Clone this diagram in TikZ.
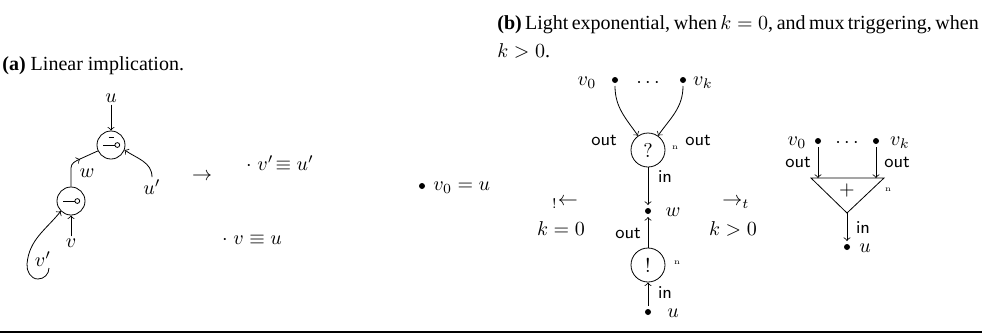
\documentclass[tikz,border=0pt]{standalone}
\usepackage{fontspec}
\newfontfamily\capfont{Liberation Serif}
\usetikzlibrary{calc}
\begin{document}
\begin{tikzpicture}[x=0.5pt,y=0.5pt,
  gate/.style={circle,draw,minimum size=14pt,inner sep=0pt},
  biggate/.style={circle,draw,minimum size=17pt,inner sep=0pt},
  bul/.style={circle,fill,inner sep=0pt,minimum size=3pt,outer sep=1.5pt},
  lbl/.style={font=\small\sffamily,inner sep=1pt},
  tinylbl/.style={font=\fontsize{4}{4}\selectfont,inner sep=0pt},
  txt/.style={inner sep=1pt},
  capstyle/.style={anchor=base west,inner sep=0pt,font=\capfont\fontsize{10}{12}\selectfont},
  >=to]
\useasboundingbox (0,0) rectangle (982,334);
% ---------------- captions
\node[capstyle] (capa) at (2,264) {\textbf{(a)} Linear implication.};
\node[capstyle] (capb1) at (497,305) {\makebox[240pt][s]{\textbf{(b)} Light exponential, when $k = 0$, and mux triggering, when}};
\node[capstyle] (capb2) at (497,277) {$k > 0$.};
% ---------------- panel (a)
\node[txt] (ua) at (111,236) {$u$};
\node[gate] (t) at (111,189) {};
\node[gate] (b) at (71,133) {};
\node[txt] (wa) at (87,161) {$w$};
\node[txt] (upa) at (152,147) {$u'$};
\node[txt] (va) at (71,91) {$v$};
\node[txt] (vpa) at (43,75) {$v'$};
% gate symbols
\draw (108.5,197) -- (113.5,197);
\draw (103,189) -- (115,189);
\draw (117.3,189) circle (1.2pt);
\draw (63,133) -- (75,133);
\draw (77.3,133) circle (1.2pt);
% connectors
\draw[->] (ua) -- (t);
\coordinate (wm) at (80,175);
\draw[->] (b.north) -- (71,166) to[out=90,in=-153] (wm);
\draw (wm) -- (t);
\draw[->] (upa.north) to[out=90,in=-35] (t.-20);
\draw[->] (va) -- (b);
\coordinate (vpe) at (49,66);
\draw[->] (vpe) to[out=-90,in=0] (38,55) to[out=180,in=-95] (27,70) to[out=85,in=231] (b.225);
% rewriting
\node[txt] (arra) at (202,157) {$\rightarrow$};
\node[txt] (eq1) at (280,171) {$\cdot\; v'\!\equiv u'$};
\node[txt] (eq2) at (252,94) {$\cdot\; v\equiv u$};
% ---------------- panel (b), k = 0
\node[bul] (b0) at (422,148) {};
\node[txt,anchor=west] (b0t) at (431,146) {$v_0 = u$};
\node[txt] (lar) at (565,131) {${}_{!}{\leftarrow}$};
\node[txt] (k0) at (561,105) {$k = 0$};
\node[txt] (rar) at (736,131) {${\rightarrow}_{t}$};
\node[txt] (kg0) at (733,105) {$k > 0$};
% middle structure
\node[txt] (v0l) at (587,251) {$v_0$};
\node[bul] (v0d) at (615,254) {};
\node[txt] (dots1) at (648,251) {$\cdots$};
\node[bul] (vkd) at (683,254) {};
\node[txt] (vkl) at (703,251) {$v_k$};
\node[biggate] (q) at (648,184) {?};
\node[lbl] (out1) at (604,194) {out};
\node[lbl] (out2) at (698,194) {out};
\node[tinylbl] (n1) at (675,186) {n};
\draw[->] (v0d) to[out=-90,in=125] (q.125);
\draw[->] (vkd) to[out=-90,in=55] (q.55);
\node[bul] (wd) at (648,123) {};
\node[txt] (wl) at (673,122) {$w$};
\node[lbl] (in1) at (665,157) {in};
\draw[->] (q) -- (wd);
\node[biggate] (bang) at (648,69) {!};
\node[lbl] (out3) at (628,101) {out};
\node[tinylbl] (n2) at (677,71) {n};
\draw[->] (bang) -- (wd);
\node[bul] (ud) at (648,22) {};
\node[txt] (ul) at (673,21) {$u$};
\node[lbl] (in2) at (665,41) {in};
\draw[->] (ud) -- (bang);
% ---------------- panel (b), k > 0 triangle
\node[txt] (v0r) at (797,191) {$v_0$};
\node[bul] (v0e) at (818,193) {};
\node[txt] (dots2) at (847,191) {$\cdots$};
\node[bul] (vke) at (876,193) {};
\node[txt] (vkr) at (900,191) {$v_k$};
\node[lbl] (out4) at (798,172) {out};
\node[lbl] (out5) at (897,172) {out};
\coordinate (tl) at (811,156);
\coordinate (tr) at (884,156);
\coordinate (apex) at (847,121);
\draw (tl) -- (tr) -- (apex) -- cycle;
\node[txt] (plus) at (847,144) {$+$};
\node[tinylbl] (n3) at (888,144) {n};
\coordinate (t0) at (818,156);
\coordinate (tk) at (876,156);
\draw[->] (v0e) -- (t0);
\draw[->] (vke) -- (tk);
\node[bul] (ue) at (847,87) {};
\node[txt] (ur) at (865,86) {$u$};
\node[lbl] (in3) at (863,106) {in};
\draw[->] (apex) -- (ue);
% ---------------- bottom rule
\coordinate (rl) at (0,2);
\coordinate (rr) at (982,2);
\draw[line width=0.9pt] (rl) -- (rr);
\end{tikzpicture}
\end{document}
